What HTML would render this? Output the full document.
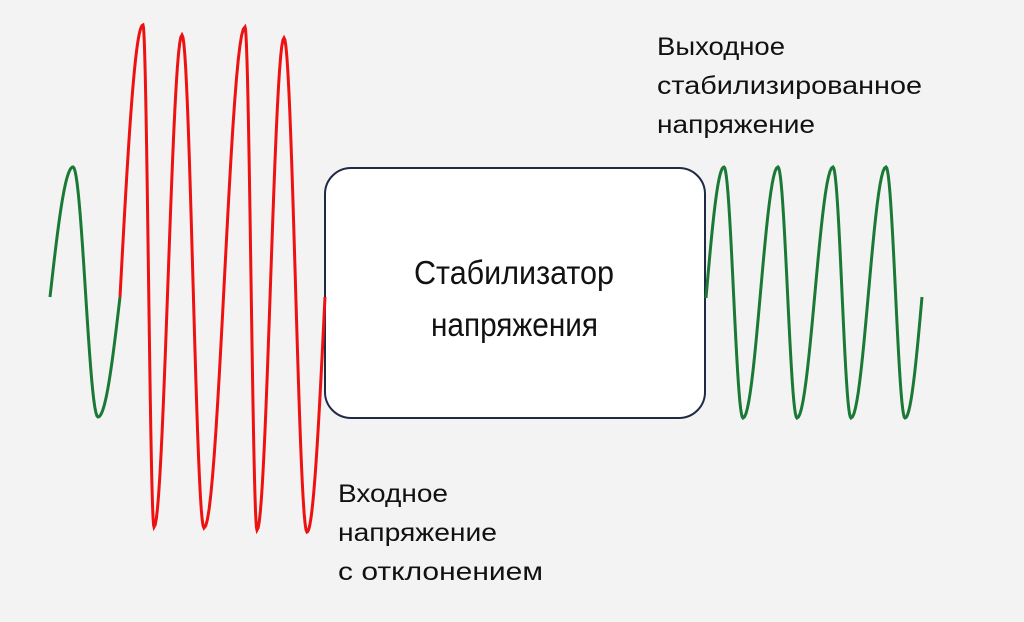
<!DOCTYPE html>
<html><head><meta charset="utf-8"><style>
html,body{margin:0;padding:0;background:#f3f3f3;}
svg{display:block}
text{font-family:"Liberation Sans",sans-serif;fill:#111;}
</style></head><body>
<svg id="s" width="1024" height="622" viewBox="0 0 1024 622" xmlns="http://www.w3.org/2000/svg">
<rect width="1024" height="622" fill="#f3f3f3"/>
<rect x="325" y="168" width="380" height="250" rx="26" fill="#fff" stroke="#1f2a44" stroke-width="2"/>
<path id="g1" fill="none" stroke="#1a7a35" stroke-width="3"/>
<path id="r1" fill="none" stroke="#ee1111" stroke-width="3"/>
<path id="g2" fill="none" stroke="#1a7a35" stroke-width="3"/>
<text x="414" y="284" font-size="33" textLength="200" lengthAdjust="spacingAndGlyphs">Стабилизатор</text>
<text x="431" y="336" font-size="33" textLength="167" lengthAdjust="spacingAndGlyphs">напряжения</text>
<text x="657" y="55" font-size="25" textLength="128" lengthAdjust="spacingAndGlyphs">Выходное</text>
<text x="657" y="94" font-size="25" textLength="265" lengthAdjust="spacingAndGlyphs">стабилизированное</text>
<text x="657" y="133" font-size="25" textLength="158" lengthAdjust="spacingAndGlyphs">напряжение</text>
<text x="338" y="502" font-size="25" textLength="110" lengthAdjust="spacingAndGlyphs">Входное</text>
<text x="338" y="541" font-size="25" textLength="159" lengthAdjust="spacingAndGlyphs">напряжение</text>
<text x="338" y="580" font-size="25" textLength="205" lengthAdjust="spacingAndGlyphs">с отклонением</text>
</svg>
<script>
function build(pts){
  var d="M"+pts[0][0]+" "+pts[0][1];
  for(var i=0;i<pts.length-1;i++){
    var a=pts[i],b=pts[i+1],N=24;
    var startMid=(i==0), endMid=(i==pts.length-2);
    for(var k=1;k<=N;k++){
      var t=k/N,f;
      if(startMid&&!endMid){f=Math.sin(t*Math.PI/2);}
      else if(endMid&&!startMid){f=1-Math.cos(t*Math.PI/2);}
      else{f=(1-Math.cos(t*Math.PI))/2;}
      var x=a[0]+(b[0]-a[0])*t, y=a[1]+(b[1]-a[1])*f;
      d+=" L"+x.toFixed(2)+" "+y.toFixed(2);
    }
  }
  return d;
}
document.getElementById("g1").setAttribute("d",build([[50,297],[73,167],[98,417],[120,297]]));
document.getElementById("r1").setAttribute("d",build([[120,297],[143,25],[154,527],[182,35],[204,528],[245,27],[257,530],[284,38],[307,532],[325,297]]));
document.getElementById("g2").setAttribute("d",build([[706,298],[724,167],[743,418],[778,167],[797,418],[833,167],[851,418],[886,167],[905,418],[922,297]]));
</script>
</body></html>
